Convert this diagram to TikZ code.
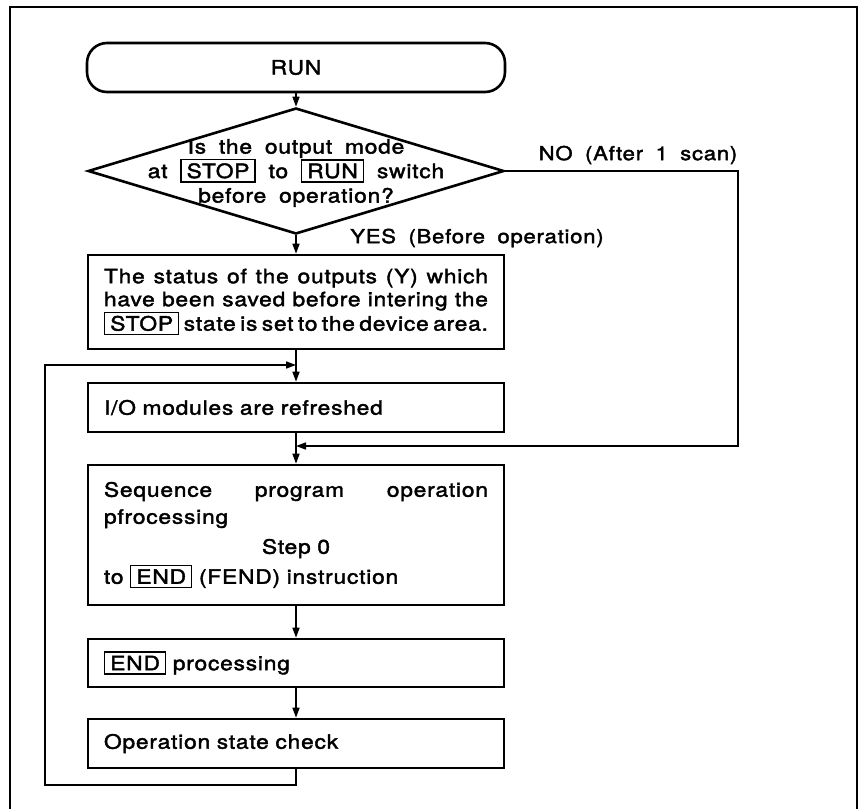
\documentclass[tikz,border=0pt]{standalone}
\usepackage{fontspec}
\setmainfont{TeX Gyre Heros}[FakeStretch=1.15,FakeBold=2,LetterSpace=4,WordSpace=1.8]
\usetikzlibrary{arrows.meta,shapes.geometric}
% framed keyword such as STOP, RUN or END
\newcommand\keyword[1]{{\setlength\fboxsep{3pt}\setlength\fboxrule{1.3pt}\fbox{\hspace{2pt}#1\hspace{2pt}}}}
% a line spread across the whole text width of a box; words are separated by \wgap
\newcommand\wgap{\hspace{3pt plus 1fill}}
\newcommand\fullline[1]{\makebox[384pt][s]{#1}}
\begin{document}
\begin{tikzpicture}[x=1pt,y=-1pt,
  every node/.style={font=\fontsize{19.8}{25}\selectfont},
  labeltext/.style={font=\fontsize{19.2}{25}\selectfont},
  frameline/.style={line width=2.8pt},
  terminal/.style={draw,line width=2.6pt,rounded corners=20pt,minimum width=418pt,minimum height=49pt,inner sep=0pt},
  decision/.style={draw,diamond,line width=2.6pt,minimum width=416pt,minimum height=126pt,inner sep=0pt},
  procbox/.style={draw,line width=2.6pt,minimum width=416pt,text width=384pt,inner sep=0pt,align=left},
  conn/.style={line width=1.6pt,-{Triangle[length=10pt,width=7pt]}}]
\useasboundingbox (0,0) rectangle (860,809);

% outer frame, open at the bottom
\draw[frameline] (10,809) -- (10,7) -- (857,7) -- (857,809);

% flow elements
\node[terminal] (run) at (296,67.5) {RUN};
\node[decision] (dec) at (296,171) {};
\node[align=center,font=\fontsize{19.8}{24.5}\selectfont] (dectext) at (296,173)
  {Is the output mode\\ at \keyword{STOP} to \keyword{RUN} switch\\ before operation?};
\node[procbox,minimum height=94pt,font=\fontsize{19.8}{23}\selectfont] (restore) at (296,302)
  {\fullline{The\wgap status\wgap of\wgap the\wgap outputs\wgap (Y)\wgap which}\\
   \fullline{have\wgap been\wgap saved\wgap before\wgap intering\wgap the}\\
   \fullline{\keyword{STOP}\wgap state\wgap is\wgap set\wgap to\wgap the\wgap device\wgap area.}};
\node[procbox,minimum height=49pt] (refresh) at (296,407.5) {I/O modules are refreshed};
\node[procbox,minimum height=140pt,font=\fontsize{19.8}{27}\selectfont] (seq) at (296,535)
  {\fullline{Sequence\wgap program\wgap operation}\\
   pfrocessing\\[3pt]
   \makebox[384pt]{Step 0}\\[3pt]
   to \keyword{END} (FEND) instruction};
\node[procbox,minimum height=48pt] (endproc) at (296,663) {\keyword{END} processing};
\node[procbox,minimum height=49pt] (check) at (296,743.5) {Operation state check};

% branch labels
\node[labeltext] (nolabel) at (638,155) {NO (After 1 scan)};
\node[labeltext] (yeslabel) at (477,238) {YES (Before operation)};

% junction and corner points
\coordinate (loopin) at (296,365);
\coordinate (loopbottom) at (45,785);
\coordinate (looptop) at (45,365);
\coordinate (noin) at (296,446);
\coordinate (nocorner) at (738,446);

% main connectors
\draw[conn] (run) -- (dec);
\draw[conn] (dec) -- (restore);
\draw[conn] (restore) -- (refresh);
\draw[conn] (refresh) -- (seq);
\draw[conn] (seq) -- (endproc);
\draw[conn] (endproc) -- (check);

% scan loop back to the refresh step
\draw[conn] (check.south) -- (check.south |- loopbottom) -- (loopbottom) -- (looptop) -- (loopin);

% NO branch joins before the sequence program
\draw[conn] (dec.east) -| (nocorner) -- (noin);
\end{tikzpicture}
\end{document}
